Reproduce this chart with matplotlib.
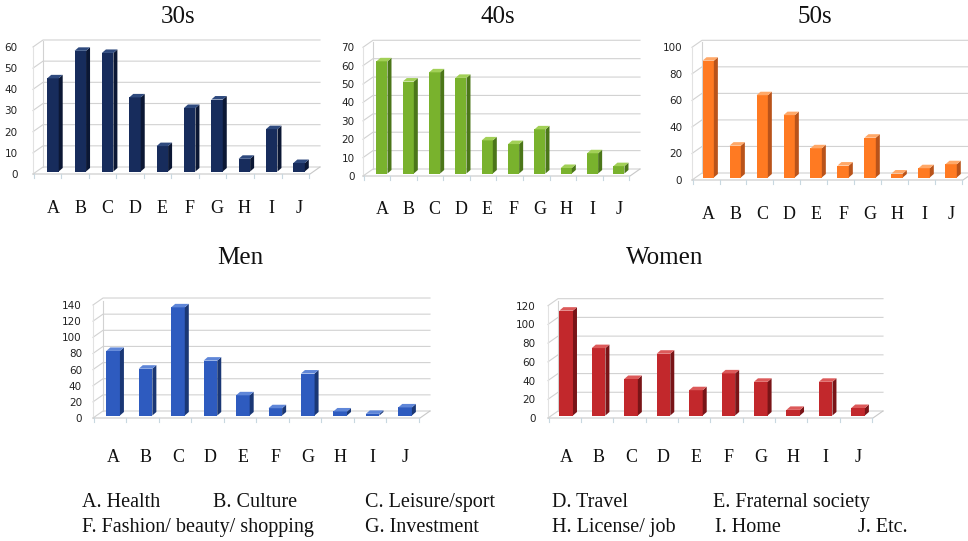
import matplotlib
matplotlib.use("Agg")
import matplotlib.pyplot as plt
from matplotlib.patches import Polygon
import numpy as np

# Category codes and counts per group
categories = ["A", "B", "C", "D", "E", "F", "G", "H", "I", "J"]
age_30s = [44, 57, 56, 35, 12, 30, 34, 6, 20, 4]
age_40s = [61, 50, 55, 52, 18, 16, 24, 3, 11, 4]
age_50s = [88, 24, 62, 47, 22, 9, 30, 3, 7, 10]
men = [80, 58, 134, 68, 25, 9, 52, 5, 2, 10]
women = [112, 72, 39, 66, 27, 45, 36, 6, 36, 8]

ticks_30s = [0, 10, 20, 30, 40, 50, 60]
ticks_40s = [0, 10, 20, 30, 40, 50, 60, 70]
ticks_50s = [0, 20, 40, 60, 80, 100]
ticks_men = [0, 20, 40, 60, 80, 100, 120, 140]
ticks_women = [0, 20, 40, 60, 80, 100, 120]

legend_row1 = ["A. Health", "B. Culture", "C. Leisure/sport", "D. Travel", "E. Fraternal society"]
legend_row2 = ["F. Fashion/ beauty/ shopping", "G. Investment", "H. License/ job", "I. Home", "J. Etc."]

W, H, DPI = 968, 541, 100
fig = plt.figure(figsize=(W / DPI, H / DPI), dpi=DPI)
fig.patch.set_facecolor("white")

SERIF = ["Liberation Serif", "DejaVu Serif"]
GRID = "#d2d2d2"


def fx(px):
    return px / W


def fy(py):
    return 1 - py / H


def draw_panel(title, title_xy, vals, ticks, ymax, box, xlim, faces, ytick_pad, xtick_pad):
    left, right, y0, ppu = box
    top = y0 - ymax * ppu
    ax = fig.add_axes([fx(left), fy(y0), (right - left) / W, (y0 - top) / H])
    ax.set_xlim(*xlim)
    ax.set_ylim(0, ymax)
    for s in ax.spines.values():
        s.set_visible(False)
    ax.set_facecolor("none")

    xppu = (right - left) / (xlim[1] - xlim[0])
    wdx, wdy = 10 / xppu, 7 / ppu        # depth of walls / floor
    bdx, bdy = 4 / xppu, 3.5 / ppu       # depth of each column
    lift = 2.5 / ppu                     # columns stand inside the floor
    x0, x1 = xlim

    # back wall, side wall and gridlines
    for v in ticks:
        ax.plot([x0, x0 + wdx, x1 + wdx], [v, v + wdy, v + wdy],
                color=GRID, lw=0.8, clip_on=False, zorder=1)
    ax.plot([x0 + wdx, x0 + wdx], [wdy, ymax + wdy * 0.4], color=GRID, lw=0.8,
            clip_on=False, zorder=1)
    ax.plot([x0, x0], [0, ticks[-1]], color="#e2e2e2", lw=0.8, clip_on=False, zorder=1)
    # floor
    ax.plot([x0, x1, x1 + wdx], [0, 0, wdy], color="#c8c8c8", lw=0.8,
            clip_on=False, zorder=1)
    for i in range(len(vals) + 1):
        bx = x0 + (i * (x1 - x0 - 0.05) / len(vals)) + 0.02
        ax.plot([bx, bx], [0, -4 / ppu], color="#c8d8e0", lw=0.8, clip_on=False, zorder=1)

    front, side, topc = faces
    xs = np.arange(len(vals))
    w = 0.42
    ax.bar(xs, vals, width=w, bottom=lift, color=front, edgecolor="none", zorder=3)
    for xi, v in zip(xs, vals):
        r = xi + w / 2
        l = xi - w / 2
        ax.add_patch(Polygon([(r, lift), (r + bdx, lift + bdy), (r + bdx, lift + v + bdy),
                              (r, lift + v)], closed=True, facecolor=side,
                             edgecolor="none", zorder=3, clip_on=False))
        ax.add_patch(Polygon([(l, lift + v), (r, lift + v), (r + bdx, lift + v + bdy),
                              (l + bdx, lift + v + bdy)], closed=True, facecolor=topc,
                             edgecolor="none", zorder=3, clip_on=False))

    ax.set_yticks(ticks)
    ax.set_yticklabels([str(t) for t in ticks], fontsize=7.5, color="#222222",
                       family=["DejaVu Sans"])
    ax.tick_params(axis="y", length=0, pad=ytick_pad)
    ax.set_xticks(xs)
    ax.set_xticklabels(categories, fontsize=13, family=SERIF, color="#111111")
    ax.tick_params(axis="x", length=0, pad=xtick_pad)

    fig.text(fx(title_xy[0]), fy(title_xy[1]), title, ha="center", va="center",
             fontsize=18, family=SERIF, color="#111111")
    return ax


draw_panel("30s", (178, 17), age_30s, ticks_30s, 61.5, (33, 310, 174, 2.117),
           (-0.73, 9.4), ("#172c5c", "#0b1734", "#2f4a7e"), 11, 19)
draw_panel("40s", (498, 17), age_40s, ticks_40s, 71.5, (363, 630, 176, 1.839),
           (-0.72, 9.42), ("#79b22d", "#4b7619", "#a2d057"), 6, 18)
draw_panel("50s", (815, 17), age_50s, ticks_50s, 102, (692, 963, 180, 1.327),
           (-0.6, 9.44), ("#ff7a22", "#b9531a", "#ffa868"), 7, 19)
draw_panel("Men", (240, 258), men, ticks_men, 142, (93, 420, 418, 0.807),
           (-0.62, 9.46), ("#2e5bbf", "#1a3775", "#5f86d8"), 8, 22)
draw_panel("Women", (665, 258), women, ticks_women, 122, (548, 873, 418, 0.936),
           (-0.56, 9.46), ("#c2282c", "#791417", "#dc5a5a"), 9, 22)

# category key below the charts
row1_x = [82, 213, 365, 552, 713]
row2_x = [82, 365, 552, 715, 858]
for label, px in zip(legend_row1, row1_x):
    fig.text(fx(px), fy(507), label, ha="left", va="baseline", fontsize=14.5,
             family=SERIF, color="#111111")
for label, px in zip(legend_row2, row2_x):
    fig.text(fx(px), fy(532), label, ha="left", va="baseline", fontsize=14.5,
             family=SERIF, color="#111111")

fig.savefig("out.png", dpi=DPI)
